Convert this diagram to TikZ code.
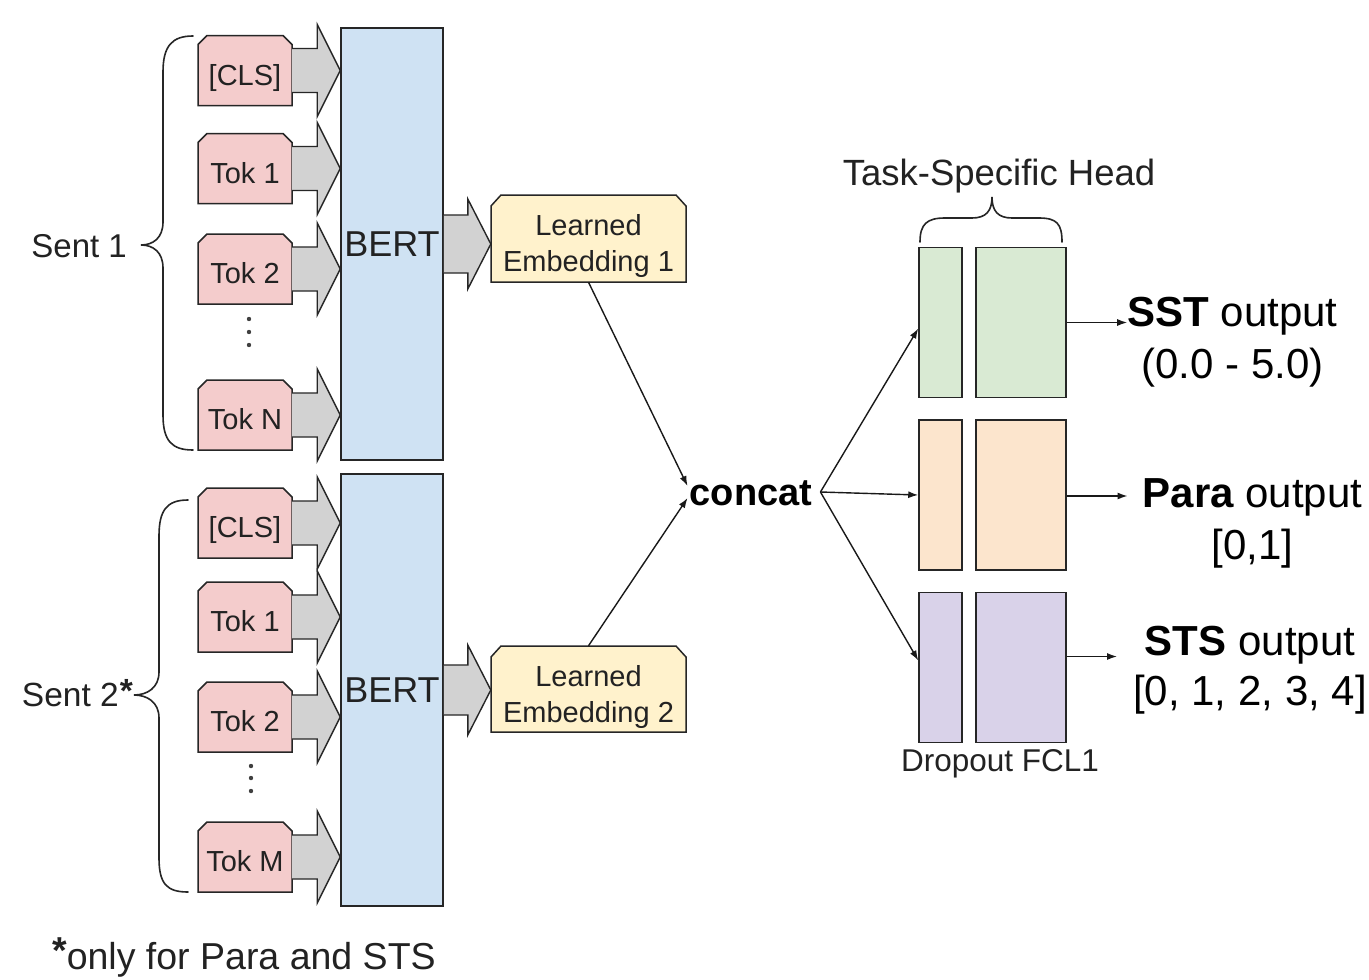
\documentclass[tikz,border=0pt]{standalone}
\usepackage{fontspec}
\setmainfont{Liberation Sans}
\usetikzlibrary{calc,arrows.meta}

\definecolor{tokpink}{HTML}{F4CCCC}
\definecolor{bertblue}{HTML}{CFE2F3}
\definecolor{embyellow}{HTML}{FFF2CC}
\definecolor{arrgray}{HTML}{D2D2D2}
\definecolor{headgreen}{HTML}{D9EAD3}
\definecolor{headorange}{HTML}{FCE5CD}
\definecolor{headpurple}{HTML}{D9D2E9}
\definecolor{ink}{HTML}{222222}

\tikzset{
  outline/.style={draw=black!85, line width=1.5pt, line join=miter},
  tokshape/.style={outline, fill=tokpink},
  tokbox/.style={minimum width=94pt, minimum height=70pt, inner sep=0pt,
    text height=29pt, text depth=0pt,
    font=\fontsize{29}{33}\selectfont, text=ink},
  bertbox/.style={outline, fill=bertblue, minimum width=102pt, minimum height=432pt,
    inner sep=0pt, font=\fontsize{36}{40}\selectfont, text=ink},
  embshape/.style={outline, fill=embyellow},
  embbox/.style={minimum width=195pt, inner sep=0pt, align=center,
    text height=66pt, text depth=0pt,
    font=\fontsize{29}{36}\selectfont, text=ink},
  barrow/.style={outline, fill=arrgray, line width=1.4pt},
  headbox/.style={outline, inner sep=0pt, minimum height=150pt},
  conn/.style={draw=black!90, line width=1.4pt, -{Latex[length=10pt,width=7pt]}},
  bracepath/.style={draw=black!85, line width=1.6pt, line cap=round},
  outtxt/.style={inner sep=0pt, align=center, font=\fontsize{42}{52}\selectfont, text=black},
  lbl/.style={inner sep=0pt, text=ink},
}

% token box with snipped top corners, centred at (#2,#3)
\newcommand\tok[4]{%
  \path[tokshape, shift={(#2,#3)}] (-47,35) -- (-47,-26) -- (-38,-35) -- (38,-35)
    -- (47,-26) -- (47,35) -- cycle;
  \node[tokbox] (#1) at (#2,#3) {#4};}

% embedding box with snipped top corners, centred at (#2,#3), height #4
\newcommand\emb[5]{%
  \path[embshape, shift={(#2,#3)}] (-97.5,#4/2) -- (-97.5,-#4/2+11) -- (-87.5,-#4/2)
    -- (87.5,-#4/2) -- (97.5,-#4/2+11) -- (97.5,#4/2) -- cycle;
  \node[embbox, minimum height=#4pt] (#1) at (#2,#3) {#5};}

% block arrow from the east side of #1 to the west side of #2
% #3 shaft half width, #4 head half width, #5 head length
\newcommand\barr[5]{%
  \draw[barrow] let \p1=(#1.east), \p2=(#2.west) in
    (\x1,{\y1+#3pt}) -- ({\x2-#5pt},{\y1+#3pt}) -- ({\x2-#5pt},{\y1+#4pt})
    -- (\x2,\y1) -- ({\x2-#5pt},{\y1-#4pt}) -- ({\x2-#5pt},{\y1-#3pt})
    -- (\x1,{\y1-#3pt});}

\begin{document}
\begin{tikzpicture}[x=1pt,y=-1pt]
\useasboundingbox[fill=white] (0,0) rectangle (1369,980);

% encoders
\node[bertbox] (bert1) at (392,244) {BERT};
\node[bertbox] (bert2) at (392,690) {BERT};

% sentence 1 tokens
\tok{a0}{245}{70.5}{[CLS]}
\tok{a1}{245}{168.5}{Tok 1}
\tok{a2}{245}{269}{Tok 2}
\tok{aN}{245}{415}{Tok N}
% sentence 2 tokens
\tok{b0}{245}{523}{[CLS]}
\tok{b1}{245}{617}{Tok 1}
\tok{b2}{245}{717}{Tok 2}
\tok{bM}{245}{857}{Tok M}

\foreach \t in {a0,a1,a2,aN} {\barr{\t}{bert1}{22}{46}{23}}
\foreach \t in {b0,b1,b2,bM} {\barr{\t}{bert2}{22}{46}{23}}

% vertical ellipses
\foreach \y in {319,332,345} {\fill[black!75] (249,\y) circle (2.2pt);}
\foreach \y in {766,778,791} {\fill[black!75] (251,\y) circle (2.2pt);}

% sentence braces and labels
\draw[bracepath] (193,36) .. controls (172,36) and (163,46) .. (163,72) -- (163,222)
  .. controls (163,238) and (153,245) .. (141,245)
  .. controls (153,245) and (163,252) .. (163,268) -- (163,415)
  .. controls (163,441) and (172,450) .. (193,450);
\draw[bracepath] (188,500) .. controls (167,500) and (159,510) .. (159,536) -- (159,672)
  .. controls (159,688) and (147,695) .. (134,695)
  .. controls (147,695) and (159,702) .. (159,718) -- (159,858)
  .. controls (159,884) and (167,892) .. (188,892);
\node[lbl, anchor=east, font=\fontsize{33}{36}\selectfont] (s1) at (127,246) {Sent 1};
\node[lbl, anchor=east, font=\fontsize{33.5}{36}\selectfont] (s2) at (133,693)
  {Sent 2\kern1pt\raisebox{4pt}{\bfseries *}};
\node[lbl, anchor=west, font=\fontsize{37.5}{40}\selectfont] (note) at (52,957)
  {\raisebox{6pt}{\bfseries *}only for Para and STS};

% learned embeddings
\emb{e1}{588.5}{238.5}{87}{Learned\\Embedding 1}
\emb{e2}{588.5}{689}{86}{Learned\\Embedding 2}
\barr{bert1}{e1}{29}{45}{23}
\barr{bert2}{e2}{25}{45}{23}

% concatenation
\node[inner sep=0pt, inner xsep=2pt, font=\bfseries\fontsize{38}{40}\selectfont, text=black]
  (concat) at (751,493) {concat};
\draw[conn] (e1.south) -- ($(concat.west)+(0,-7)$);
\draw[conn] (e2.north) -- ($(concat.west)+(0,5)$);

% task-specific heads: dropout and FCL1
\node[headbox, fill=headgreen,  minimum width=43pt] (g1) at (940.5,322.5) {};
\node[headbox, fill=headgreen,  minimum width=90pt] (g2) at (1021,322.5) {};
\node[headbox, fill=headorange, minimum width=43pt] (o1) at (940.5,495) {};
\node[headbox, fill=headorange, minimum width=90pt] (o2) at (1021,495) {};
\node[headbox, fill=headpurple, minimum width=43pt] (p1) at (940.5,667.5) {};
\node[headbox, fill=headpurple, minimum width=90pt] (p2) at (1021,667.5) {};

\draw[conn] ($(concat.east)+(6,-1)$) -- ($(g1.west)+(0,6)$);
\draw[conn] ($(concat.east)+(6,-1)$) -- (o1.west);
\draw[conn] ($(concat.east)+(6,-1)$) -- ($(p1.west)+(0,-7)$);

\draw[bracepath] (920,242) .. controls (920,224) and (927,218) .. (945,218) -- (972,218)
  .. controls (986,218) and (992,211) .. (992,197)
  .. controls (992,211) and (998,218) .. (1012,218) -- (1039,218)
  .. controls (1057,218) and (1062,224) .. (1062,242);
\node[lbl, font=\fontsize{36.5}{40}\selectfont] (tsh) at (999,176) {Task-Specific Head};
\node[lbl, font=\fontsize{31.5}{36}\selectfont] (dfc) at (1000,764) {Dropout FCL1};

% outputs
\node[outtxt] (sst) at (1232.5,342) {{\bfseries SST} output\\(0.0 - 5.0)};
\node[outtxt] (para) at (1252.5,523) {{\bfseries Para} output\\{[0,1]}};
\node[outtxt, font=\fontsize{42}{50}\selectfont] (sts) at (1250,670)
  {{\bfseries STS} output\\{[0, 1, 2, 3, 4]}};

\draw[conn] (g2.east) -- (g2.east -| sst.west);
\draw[conn] ($(o2.east)+(0,1)$) -- ($(o2.east -| para.west)+(-15,1)$);
\draw[conn] ($(p2.east)+(0,-11)$) -- ($(p2.east -| sts.west)+(-16,-11)$);
\end{tikzpicture}
\end{document}
